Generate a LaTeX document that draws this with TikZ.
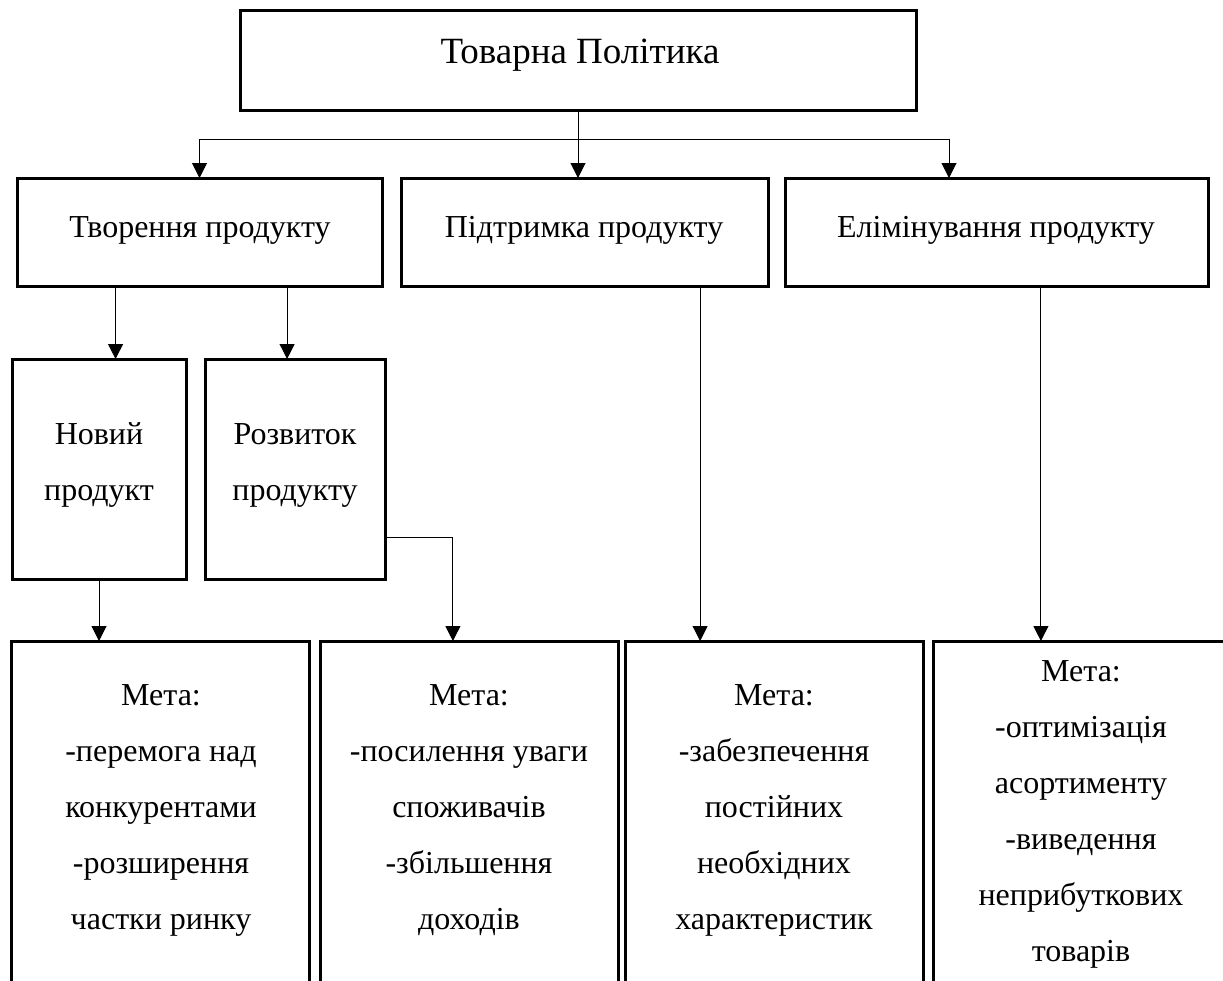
\documentclass[tikz,border=0pt]{standalone}
\usepackage{fontspec}
\setmainfont{Liberation Serif}
\usepackage{tikz}
\usetikzlibrary{arrows.meta}
\usetikzlibrary{calc}
\tikzstyle{box}=[draw=black, line width=1.5pt, inner sep=0pt, outer sep=0pt]
\tikzstyle{goal}=[box, minimum width=149pt, minimum height=185pt]
\tikzstyle{arr}=[line width=.5pt, -{Triangle[length=7.5pt,width=7.5pt]}]
\tikzstyle{txt}=[align=center, anchor=base, inner sep=0pt, font=\fontsize{16}{28}\selectfont]

\begin{document}
\begin{tikzpicture}[x=.5pt, y=-.5pt]
    \useasboundingbox (0,0) rectangle (1223,981);
    \clip (0,0) rectangle (1223,981);
    % boxes
    \node[box, minimum width=338pt, minimum height=50pt] (pol) at (578,60) {};
    \node[box, minimum width=182.5pt, minimum height=54pt] (tvor) at (199.5,232) {};
    \node[box, minimum width=183.5pt, minimum height=54pt] (pidt) at (584.5,232) {};
    \node[box, minimum width=211.5pt, minimum height=54pt] (elim) at (996.5,232) {};
    \node[box, minimum width=87pt, minimum height=110pt] (nov) at (99,469) {};
    \node[box, minimum width=90pt, minimum height=110pt] (rozv) at (295,469) {};
    \node[goal] (m1) at (160.5,826) {};
    \node[goal] (m2) at (469,826) {};
    \node[goal] (m3) at (774,826) {};
    \node[goal] (m4) at (1082,826) {};
    % texts (base = last line)
    \node[txt, font=\fontsize{18.5}{28}\selectfont] (tpol) at (580,63) {Товарна Політика};
    \node[txt] (ttvor) at (200,237) {Творення продукту};
    \node[txt] (tpidt) at (584,237) {Підтримка продукту};
    \node[txt] (telim) at (996,237) {Елімінування продукту};
    \node[txt] (tnov) at (99,500) {Новий\\продукт};
    \node[txt] (trozv) at (295,500) {Розвиток\\продукту};
    \node[txt] (tm1) at (161,929) {Мета:\\-перемога над\\конкурентами\\-розширення\\частки ринку};
    \node[txt] (tm2) at (469,929) {Мета:\\-посилення уваги\\споживачів\\-збільшення\\доходів};
    \node[txt] (tm3) at (774,929) {Мета:\\-забезпечення\\постійних\\необхідних\\характеристик};
    \node[txt] (tm4) at (1081,961) {Мета:\\-оптимізація\\асортименту\\-виведення\\неприбуткових\\товарів};
    % connectors
    \coordinate (bus) at (pol.south |- 0,139);
    \coordinate (busr) at (949,139);
    \draw[arr] (pol.south) -- (pol.south |- pidt.north);
    \draw[arr] (bus) -| (tvor.north);
    \draw[arr] (bus) -| (busr |- elim.north);
    \draw[arr] ($(tvor.south west)!.27!(tvor.south east)$) coordinate (a1) -- (a1 |- nov.north);
    \draw[arr] ($(tvor.south west)!.74!(tvor.south east)$) coordinate (a2) -- (a2 |- rozv.north);
    \draw[arr] (nov.south) -- (nov.south |- m1.north);
    \draw[arr] ($(rozv.north east)!.81!(rozv.south east)$) -| ($(m2.north west)!.446!(m2.north east)$);
    \draw[arr] ($(pidt.south west)!.815!(pidt.south east)$) coordinate (a3) -- (a3 |- m3.north);
    \draw[arr] ($(elim.south west)!.605!(elim.south east)$) coordinate (a4) -- (a4 |- m4.north);
\end{tikzpicture}
\end{document}
